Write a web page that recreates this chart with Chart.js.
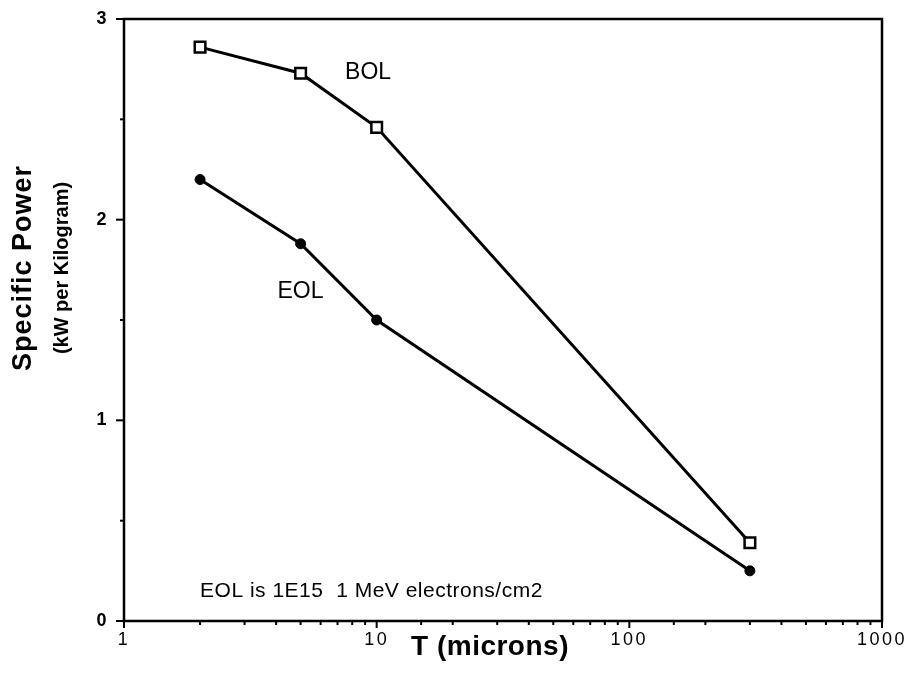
<!DOCTYPE html>
<html><head><meta charset="utf-8">
<script src="https://cdn.jsdelivr.net/npm/chart.js@4/dist/chart.umd.min.js"></script>
<style>html,body{margin:0;padding:0;background:#fff}#wrap{width:915px;height:678px}</style>
</head><body><div id="wrap"><canvas id="c" width="915" height="678"></canvas></div>
<script>
// ---- data ----
const thickness = [2, 5, 10, 300];
const bolPower = [2.86, 2.73, 2.46, 0.39];
const eolPower = [2.20, 1.88, 1.50, 0.25];
const seriesNames = ['BOL', 'EOL'];
const xTickValues = [1, 10, 100, 1000];
const xTickLabels = ['1', '10', '100', '1000'];
const yTickValues = [0, 1, 2, 3];
const yTickLabels = ['0', '1', '2', '3'];
const xTitle = 'T (microns)';
const yTitle = 'Specific Power';
const ySubTitle = '(kW per Kilogram)';
const noteText = 'EOL is 1E15  1 MeV electrons/cm2';

// text annotations anchored in data coordinates
const annotations = [
  {text: seriesNames[0], x: 7.5, y: 2.70, font: '23px "Liberation Sans", Arial, sans-serif', spacing: '0px'},
  {text: seriesNames[1], x: 4.05, y: 1.61, font: '23px "Liberation Sans", Arial, sans-serif', spacing: '0px'},
  {text: noteText, x: 2.0, y: 0.12, font: '21px "Liberation Sans", Arial, sans-serif', spacing: '0.5px'}
];

const FONT = '"Liberation Sans", Arial, sans-serif';

const decor = {
  id: 'decor',
  beforeDraw(chart) {
    chart.ctx.letterSpacing = '2.5px';
  },
  afterDraw(chart) {
    const {ctx, chartArea: a, scales: {x, y}} = chart;
    ctx.save();
    ctx.strokeStyle = '#000';
    ctx.lineWidth = 2.5;
    ctx.strokeRect(a.left, a.top, a.right - a.left, a.bottom - a.top);
    ctx.lineWidth = 2;
    // y tick marks
    y.ticks.forEach(t => {
      const py = y.getPixelForValue(t.value);
      const major = yTickValues.includes(t.value);
      ctx.beginPath();
      ctx.moveTo(a.left - (major ? 8 : 4), py);
      ctx.lineTo(a.left, py);
      ctx.stroke();
    });
    // x tick marks
    x.ticks.forEach(t => {
      const px = x.getPixelForValue(t.value);
      const major = xTickValues.includes(t.value);
      ctx.beginPath();
      ctx.moveTo(px, a.bottom);
      ctx.lineTo(px, a.bottom + (major ? 7 : 4));
      ctx.stroke();
    });
    // annotations
    ctx.fillStyle = '#000';
    ctx.textBaseline = 'alphabetic';
    ctx.textAlign = 'left';
    annotations.forEach(an => {
      ctx.font = an.font;
      ctx.letterSpacing = an.spacing;
      ctx.fillText(an.text, x.getPixelForValue(an.x), y.getPixelForValue(an.y));
    });
    // x title
    ctx.letterSpacing = '0.5px';
    ctx.font = 'bold 28px ' + FONT;
    ctx.textAlign = 'center';
    ctx.fillText(xTitle, (a.left + a.right) / 2 - 13, chart.height - 23);
    // y titles
    const cy = (a.top + a.bottom) / 2 - 52;
    ctx.save();
    ctx.translate(31, cy);
    ctx.rotate(-Math.PI / 2);
    ctx.letterSpacing = '1px';
    ctx.font = 'bold 27px ' + FONT;
    ctx.fillText(yTitle, 0, 0);
    ctx.restore();
    ctx.save();
    ctx.translate(68, cy);
    ctx.rotate(-Math.PI / 2);
    ctx.letterSpacing = '0px';
    ctx.font = 'bold 20px ' + FONT;
    ctx.fillText(ySubTitle, 0, 0);
    ctx.restore();
    ctx.restore();
    ctx.letterSpacing = '0px';
  }
};

new Chart(document.getElementById('c'), {
  type: 'line',
  data: {
    datasets: [
      {
        label: seriesNames[0],
        data: thickness.map((t, i) => ({x: t, y: bolPower[i]})),
        borderColor: '#000',
        borderWidth: 3,
        pointStyle: 'rect',
        pointRadius: 7.5,
        pointBackgroundColor: '#fff',
        pointBorderColor: '#000',
        pointBorderWidth: 2.5,
        tension: 0
      },
      {
        label: seriesNames[1],
        data: thickness.map((t, i) => ({x: t, y: eolPower[i]})),
        borderColor: '#000',
        borderWidth: 3,
        pointStyle: 'circle',
        pointRadius: 5,
        pointBackgroundColor: '#000',
        pointBorderColor: '#000',
        pointBorderWidth: 1,
        tension: 0
      }
    ]
  },
  options: {
    responsive: false,
    animation: false,
    devicePixelRatio: 1,
    layout: {padding: {top: 19, right: 33, left: 0, bottom: 0}},
    plugins: {legend: {display: false}, tooltip: {enabled: false}},
    scales: {
      x: {
        type: 'logarithmic',
        min: 1, max: 1000,
        afterFit(s) { s.height = 57; },
        border: {display: false},
        grid: {display: false, drawTicks: false},
        ticks: {
          autoSkip: false,
          maxRotation: 0,
          padding: 8,
          color: '#000',
          font: {family: FONT, size: 18},
          callback(v) { const i = xTickValues.indexOf(v); return i >= 0 ? xTickLabels[i] : ''; }
        }
      },
      y: {
        min: 0, max: 3,
        afterFit(s) { s.width = 124; s.paddingTop = 0; s.paddingBottom = 0; },
        border: {display: false},
        grid: {display: false, drawTicks: false},
        ticks: {
          stepSize: 0.5,
          autoSkip: false,
          padding: 15,
          color: '#000',
          font: {family: FONT, size: 18, weight: 'bold'},
          callback(v) { const i = yTickValues.indexOf(v); return i >= 0 ? yTickLabels[i] : ''; }
        }
      }
    }
  },
  plugins: [decor]
});
</script>
</body></html>
